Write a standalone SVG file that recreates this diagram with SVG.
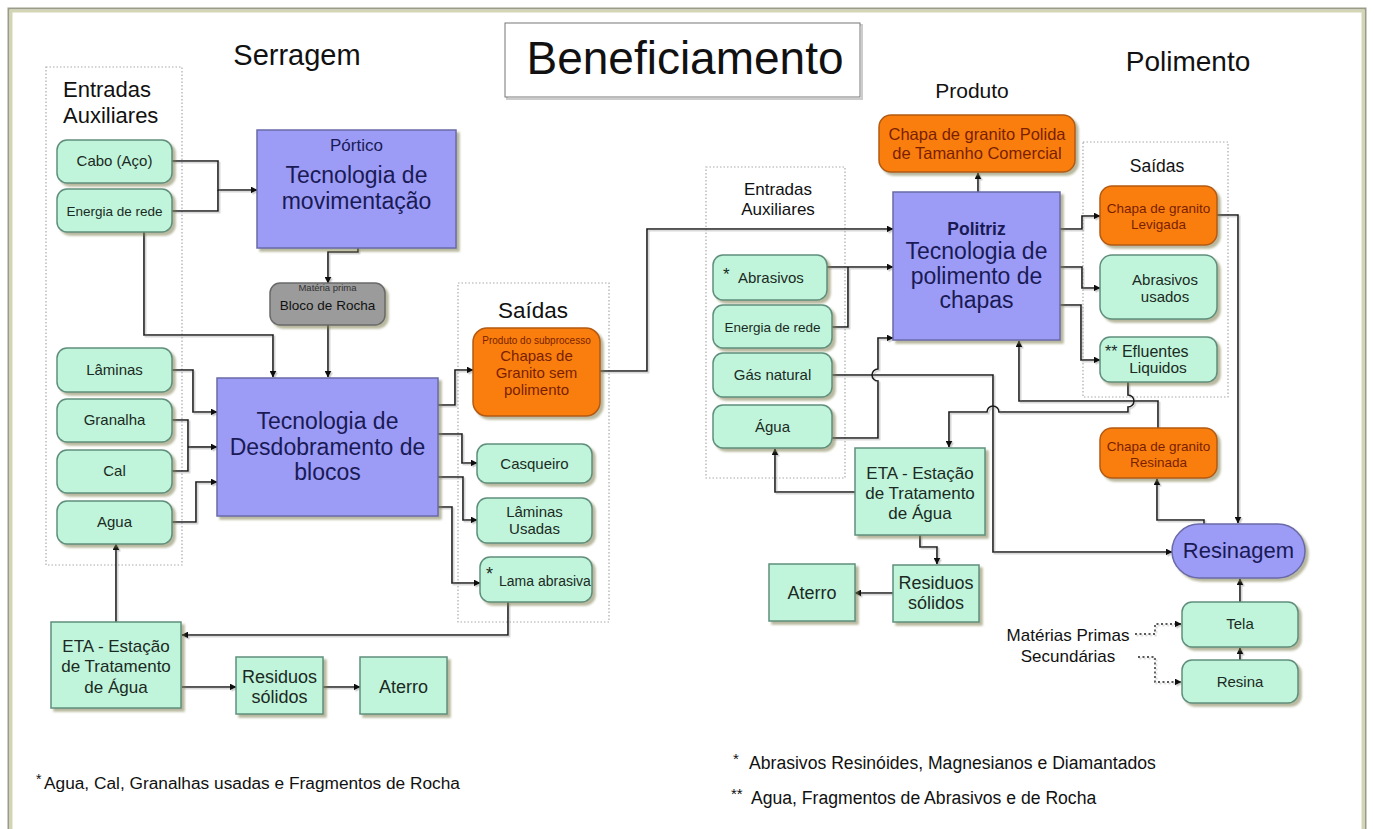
<svg xmlns="http://www.w3.org/2000/svg" width="1375" height="829" viewBox="0 0 1375 829">
<defs>
<filter id="sh" x="-10%" y="-10%" width="130%" height="130%">
<feDropShadow dx="3" dy="3" stdDeviation="1.2" flood-color="#7d7d50" flood-opacity="0.55"/>
</filter>
<filter id="lsh" x="-5%" y="-5%" width="110%" height="110%">
<feDropShadow dx="1.5" dy="1.5" stdDeviation="0.5" flood-color="#aaa" flood-opacity="0.6"/>
</filter>
<marker id="ar" viewBox="0 0 10 10" refX="9" refY="5" markerWidth="7" markerHeight="7" orient="auto" markerUnits="userSpaceOnUse">
<path d="M0,0 L10,5 L0,10 z" fill="#111"/>
</marker>
</defs>
<style>
text{font-family:"Liberation Sans",Arial,sans-serif;fill:#1b2a22}
.mint{fill:#c0f5dc;stroke:#5f8f7c;stroke-width:1.5;filter:url(#sh)}
.peri{fill:#9c9cf7;stroke:#6a6aa8;stroke-width:1.5;filter:url(#sh)}
.org{fill:#f97e0c;stroke:#b35a12;stroke-width:1.5;filter:url(#sh)}
.gry{fill:#9b9b9b;stroke:#6a6a6a;stroke-width:1.5;filter:url(#sh)}
.cont{fill:none;stroke:#aaa;stroke-width:1.2;stroke-dasharray:1.5 2}
.c{text-anchor:middle}
.pt{fill:#1a1a55}
.ot{fill:#7a1e00}
.hd{fill:#111}
.ln{fill:none;stroke:#1a1a1a;stroke-width:1.6}
.ln.a{marker-end:url(#ar)}
.dl{fill:none;stroke:#222;stroke-width:1.4;stroke-dasharray:2 2.5;marker-end:url(#ar)}
</style>
<rect x="0" y="0" width="1375" height="829" fill="#fff"/>
<rect x="8.5" y="8.5" width="1357" height="840" fill="none" stroke="#9b9c88" stroke-width="2"/>
<rect x="11" y="11" width="1352" height="835" fill="none" stroke="#d3d5b5" stroke-width="3"/>

<g id="title">
<rect x="507" y="25" width="355" height="74" fill="none" stroke="#ccc" stroke-width="2"/>
<rect x="505" y="23" width="355" height="74" fill="#fff" stroke="#777" stroke-width="1"/>
<text x="685" y="74" class="c hd" font-size="46">Beneficiamento</text>
</g>
<g id="headings">
<text x="297" y="65" class="c hd" font-size="29">Serragem</text>
<text x="1188" y="71" class="c hd" font-size="28">Polimento</text>
<text x="972" y="98" class="c hd" font-size="21">Produto</text>
</g>

<g id="containers">
<rect class="cont" x="46" y="67" width="136" height="498"/>
<text x="63" y="97" class="hd" font-size="22">Entradas</text>
<text x="63" y="123" class="hd" font-size="22">Auxiliares</text>
<rect class="cont" x="458" y="283" width="151" height="339"/>
<text x="533" y="318" class="c hd" font-size="22.5">Saídas</text>
<rect class="cont" x="706" y="167" width="139" height="311"/>
<text x="778" y="195" class="c hd" font-size="17">Entradas</text>
<text x="778" y="215" class="c hd" font-size="17">Auxiliares</text>
<rect class="cont" x="1083" y="142" width="145" height="255"/>
<text x="1157" y="172" class="c hd" font-size="17.5">Saídas</text>
</g>

<g id="connectors" filter="url(#lsh)">
<path class="ln a" d="M172,161 H218 V190 H257"/>
<path class="ln" d="M172,211 H218 V190"/>
<path class="ln a" d="M144,232 V335 H273 V377"/>
<path class="ln a" d="M358,248 V252 H328 V283"/>
<path class="ln a" d="M328,325 V377"/>
<path class="ln a" d="M172,370 H193 V412 H217"/>
<path class="ln" d="M172,420 H188 V471 H172"/>
<path class="ln a" d="M188,447 H217"/>
<path class="ln a" d="M172,522 H196 V482 H217"/>
<path class="ln a" d="M116,622 V544"/>
<path class="ln a" d="M438,405 H455 V370 H473"/>
<path class="ln a" d="M438,434 H462 V463 H477"/>
<path class="ln a" d="M438,477 H463 V520 H477"/>
<path class="ln a" d="M438,507 H452 V583 H480"/>
<path class="ln a" d="M508,602 V635 H182"/>
<path class="ln a" d="M182,687 H236"/>
<path class="ln a" d="M323,687 H360"/>
<path class="ln a" d="M600,371 H647 V229 H893"/>
<path class="ln a" d="M827,267 H893"/>
<path class="ln" d="M832,327 H848 V267"/>
<path class="ln a" d="M832,438 H878 V381 A6,6 0 0 1 878,369 V338 H893"/>
<path class="ln a" d="M832,375 H993 V552 H1172"/>
<path class="ln a" d="M978,192 V173"/>
<path class="ln a" d="M1060,229 H1082 V216 H1100"/>
<path class="ln a" d="M1060,267 H1082 V288 H1100"/>
<path class="ln a" d="M1060,305 H1081 V360 H1100"/>
<path class="ln a" d="M1217,215 H1238 V523"/>
<path class="ln a" d="M1128,382 V395 A6,6 0 0 1 1128,407 V412 H999 A6,6 0 0 0 987,412 H949 V447"/>
<path class="ln a" d="M1158,428 V401 H1019 V341"/>
<path class="ln a" d="M1204,524 V520 H1157 V479"/>
<path class="ln a" d="M1240,602 V579"/>
<path class="ln a" d="M1240,660 V648"/>
<path class="ln a" d="M855,492 H775 V449"/>
<path class="ln a" d="M920,535 V547 H937 V564"/>
<path class="ln a" d="M893,593 H855"/>
<path class="dl" d="M1135,634 H1155 V624 H1181"/>
<path class="dl" d="M1138,657 H1155 V682 H1181"/>
</g>

<g id="n-cabo"><rect class="mint" x="57" y="140" width="115" height="43" rx="10"/><text x="114.5" y="166" class="c" font-size="15">Cabo (Aço)</text></g>
<g id="n-energia1"><rect class="mint" x="57" y="189" width="115" height="43" rx="10"/><text x="114.5" y="216" class="c" font-size="13.5">Energia de rede</text></g>
<g id="n-laminas"><rect class="mint" x="57" y="348" width="115" height="44" rx="10"/><text x="114.5" y="375" class="c" font-size="15">Lâminas</text></g>
<g id="n-granalha"><rect class="mint" x="57" y="399" width="115" height="43" rx="10"/><text x="114.5" y="425" class="c" font-size="15">Granalha</text></g>
<g id="n-cal"><rect class="mint" x="57" y="450" width="115" height="43" rx="10"/><text x="114.5" y="476" class="c" font-size="15">Cal</text></g>
<g id="n-agua1"><rect class="mint" x="57" y="501" width="115" height="43" rx="10"/><text x="114.5" y="527" class="c" font-size="15">Agua</text></g>
<g id="n-portico"><rect class="peri" x="257" y="130" width="199" height="118"/>
<text x="356.5" y="151" class="c pt" font-size="17">Pórtico</text>
<text x="356.5" y="183" class="c pt" font-size="23">Tecnologia de</text>
<text x="356.5" y="209" class="c pt" font-size="23">movimentação</text></g>
<g id="n-bloco"><rect class="gry" x="270" y="283" width="115" height="42" rx="10"/>
<text x="327.5" y="291" class="c" font-size="9.5" style="fill:#333">Matéria prima</text>
<text x="327.5" y="310" class="c" font-size="13.5" style="fill:#111">Bloco de Rocha</text></g>
<g id="n-desdobramento"><rect class="peri" x="217" y="378" width="221" height="138"/>
<text x="327.5" y="429" class="c pt" font-size="23">Tecnologia de</text>
<text x="327.5" y="455" class="c pt" font-size="23">Desdobramento de</text>
<text x="327.5" y="480" class="c pt" font-size="23">blocos</text></g>
<g id="n-chapas"><rect class="org" x="473" y="328" width="127" height="88" rx="14"/>
<text x="536.5" y="344" class="c ot" font-size="10">Produto do subprocesso</text>
<text x="536.5" y="361" class="c ot" font-size="15">Chapas de</text>
<text x="536.5" y="378" class="c ot" font-size="15">Granito sem</text>
<text x="536.5" y="395" class="c ot" font-size="15">polimento</text></g>
<g id="n-casqueiro"><rect class="mint" x="477" y="444" width="115" height="39" rx="10"/><text x="534.5" y="469" class="c" font-size="15">Casqueiro</text></g>
<g id="n-laminas-usadas"><rect class="mint" x="477" y="498" width="115" height="45" rx="10"/>
<text x="534.5" y="517" class="c" font-size="15">Lâminas</text><text x="534.5" y="534" class="c" font-size="15">Usadas</text></g>
<g id="n-lama"><rect class="mint" x="480" y="557" width="112" height="45" rx="10"/>
<text x="486" y="580" font-size="18">*</text><text x="499" y="586" font-size="14">Lama abrasiva</text></g>
<g id="n-eta1"><rect class="mint" x="51" y="622" width="130" height="86"/>
<text x="116" y="652" class="c" font-size="17">ETA - Estação</text>
<text x="116" y="672" class="c" font-size="17">de Tratamento</text>
<text x="116" y="693" class="c" font-size="17">de Água</text></g>
<g id="n-residuos1"><rect class="mint" x="236" y="657" width="87" height="57"/>
<text x="279.5" y="683" class="c" font-size="18">Residuos</text><text x="279.5" y="703" class="c" font-size="18">sólidos</text></g>
<g id="n-aterro1"><rect class="mint" x="360" y="657" width="87" height="57"/><text x="403.5" y="693" class="c" font-size="18">Aterro</text></g>

<g id="n-polida"><rect class="org" x="879" y="115" width="196" height="57" rx="12"/>
<text x="977" y="140" class="c ot" font-size="16.5">Chapa de granito Polida</text>
<text x="977" y="159" class="c ot" font-size="16.5">de Tamanho Comercial</text></g>
<g id="n-politriz"><rect class="peri" x="893" y="192" width="167" height="148"/>
<text x="976.5" y="235" class="c pt" font-size="17.5" font-weight="bold">Politriz</text>
<text x="976.5" y="259" class="c pt" font-size="23">Tecnologia de</text>
<text x="976.5" y="284" class="c pt" font-size="23">polimento de</text>
<text x="976.5" y="308" class="c pt" font-size="23">chapas</text></g>
<g id="n-abrasivos"><rect class="mint" x="713" y="255" width="114" height="45" rx="10"/>
<text x="723" y="280" font-size="17">*</text><text x="738" y="283" font-size="15">Abrasivos</text></g>
<g id="n-energia2"><rect class="mint" x="713" y="305" width="119" height="43" rx="10"/><text x="772.5" y="332" class="c" font-size="13.5">Energia de rede</text></g>
<g id="n-gas"><rect class="mint" x="713" y="353" width="119" height="44" rx="10"/><text x="772.5" y="380" class="c" font-size="15">Gás natural</text></g>
<g id="n-agua2"><rect class="mint" x="713" y="405" width="119" height="43" rx="10"/><text x="772.5" y="432" class="c" font-size="15">Água</text></g>
<g id="n-levigada"><rect class="org" x="1100" y="186" width="117" height="59" rx="12"/>
<text x="1158.5" y="213" class="c ot" font-size="13.5">Chapa de granito</text>
<text x="1158.5" y="229" class="c ot" font-size="13.5">Levigada</text></g>
<g id="n-abrasivos-usados"><rect class="mint" x="1100" y="255" width="117" height="64" rx="12"/>
<text x="1165" y="285" class="c" font-size="15">Abrasivos</text><text x="1165" y="302" class="c" font-size="15">usados</text></g>
<g id="n-efluentes"><rect class="mint" x="1100" y="337" width="117" height="45" rx="10"/>
<text x="1105" y="357" font-size="16">** Efluentes</text><text x="1158" y="373" class="c" font-size="15.5">Liquidos</text></g>
<g id="n-resinada"><rect class="org" x="1100" y="428" width="117" height="50" rx="12"/>
<text x="1158.5" y="451" class="c ot" font-size="13.5">Chapa de granito</text>
<text x="1158.5" y="467" class="c ot" font-size="13.5">Resinada</text></g>
<g id="n-eta2"><rect class="mint" x="855" y="448" width="130" height="87"/>
<text x="920" y="479" class="c" font-size="17">ETA - Estação</text>
<text x="920" y="499" class="c" font-size="17">de Tratamento</text>
<text x="920" y="519" class="c" font-size="17">de Água</text></g>
<g id="n-residuos2"><rect class="mint" x="893" y="565" width="86" height="57"/>
<text x="936" y="589" class="c" font-size="18">Residuos</text><text x="936" y="609" class="c" font-size="18">sólidos</text></g>
<g id="n-aterro2"><rect class="mint" x="769" y="564" width="86" height="57"/><text x="812" y="599" class="c" font-size="18">Aterro</text></g>
<g id="n-resinagem"><rect class="peri" x="1172" y="524" width="133" height="54" rx="27"/>
<text x="1238.5" y="558" class="c pt" font-size="22">Resinagem</text></g>
<g id="n-tela"><rect class="mint" x="1182" y="602" width="116" height="45" rx="10"/><text x="1240" y="629" class="c" font-size="15">Tela</text></g>
<g id="n-resina"><rect class="mint" x="1182" y="660" width="116" height="43" rx="10"/><text x="1240" y="687" class="c" font-size="15">Resina</text></g>
<g id="n-materias">
<text x="1068" y="641" class="c hd" font-size="17">Matérias Primas</text>
<text x="1068" y="662" class="c hd" font-size="17">Secundárias</text>
</g>

<g id="footnotes">
<text x="36" y="784" class="hd" font-size="14">*</text>
<text x="44" y="789" class="hd" font-size="17.3">Agua, Cal, Granalhas usadas e Fragmentos de Rocha</text>
<text x="733" y="764" class="hd" font-size="15">*</text>
<text x="749" y="769" class="hd" font-size="17.6">Abrasivos Resinóides, Magnesianos e Diamantados</text>
<text x="731" y="799" class="hd" font-size="15">**</text>
<text x="751" y="804" class="hd" font-size="17.6">Agua, Fragmentos de Abrasivos e de Rocha</text>
</g>
</svg>
